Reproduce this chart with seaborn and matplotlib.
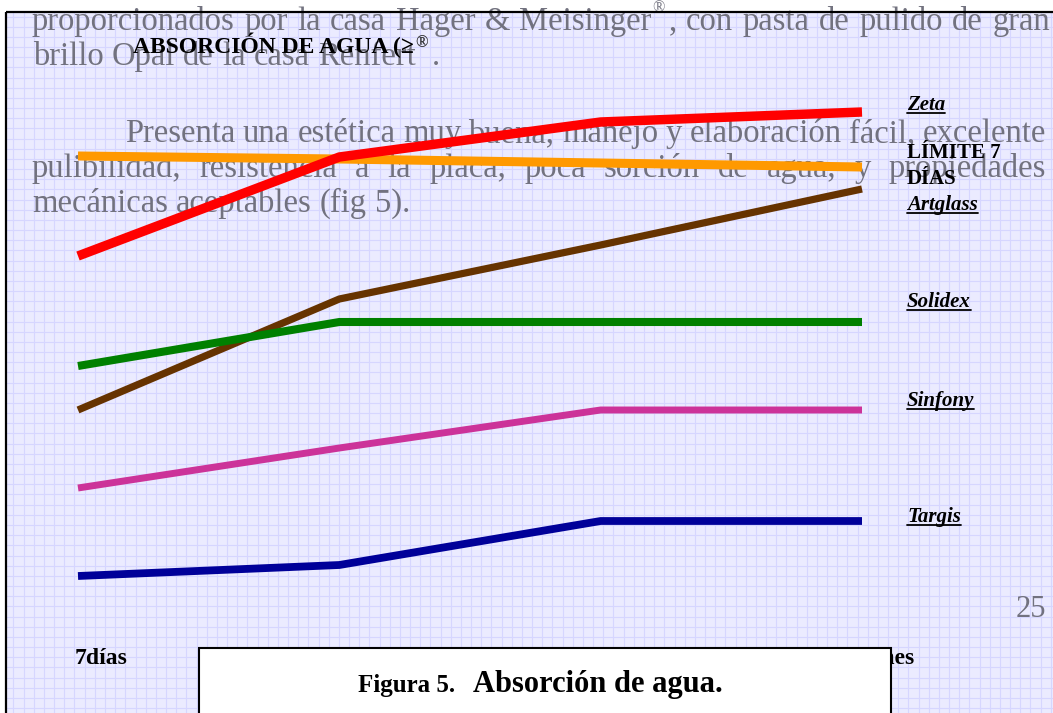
import numpy as np
import pandas as pd
import matplotlib
matplotlib.use("Agg")
import matplotlib.pyplot as plt
import matplotlib.transforms as mtransforms
from matplotlib.patches import Rectangle
import seaborn as sns

# ---------------- data ----------------
categories = ["7días", "14días", "21días", "1 mes"]
series = ["LÍMITE 7 DÍAS", "Zeta", "Artglass", "Solidex", "Sinfony", "Targis"]
limite = [88.8, 88.2, 87.4, 86.6]
zeta = [68.8, 88.6, 95.6, 97.6]
artglass = [38.0, 60.2, 71.0, 82.2]
solidex = [46.8, 55.6, 55.6, 55.6]
sinfony = [22.4, 30.4, 38.0, 38.0]
targis = [4.8, 7.0, 15.8, 15.8]
values = [limite, zeta, artglass, solidex, sinfony, targis]
colors = ["#FF9900", "#FF0000", "#663300", "#008000", "#CC3399", "#000099"]
widths = [6.5, 6.8, 5.2, 5.8, 5.0, 5.6]

rows = []
for name, vals in zip(series, values):
    for i, v in enumerate(vals):
        rows.append({"serie": name, "x": i, "valor": v})
df = pd.DataFrame(rows)

W, H = 1053, 713
sns.set_theme(style="white")
plt.rcParams["font.family"] = ["Liberation Serif", "DejaVu Serif"]

fig = plt.figure(figsize=(W / 100, H / 100), dpi=100)
fig.patch.set_facecolor("white")

# background (page) axes in pixel coordinates
ax_bg = fig.add_axes([0, 0, 1, 1], zorder=0)
ax_bg.set_xlim(0, W)
ax_bg.set_ylim(H, 0)
ax_bg.axis("off")
ax_bg.add_patch(Rectangle((6, 12), W, H, facecolor="#ebebff", edgecolor="none", zorder=0))
step = 10.17
gx = np.arange(3.3, W, step)
gy = np.arange(12 + 4.5, H, step)
ax_bg.vlines(gx[gx > 6], 12, H, colors="#d6d6ff", lw=0.8, zorder=1)
ax_bg.hlines(gy, 6, W, colors="#d6d6ff", lw=0.8, zorder=1)

renderer = fig.canvas.get_renderer()
body_size = 23.5
gray = "#72727f"


def place_line(ax, tokens, x0, y, x1=None, size=body_size, color=gray):
    arts, ws = [], []
    for text, joined, sup in tokens:
        fs = size * 0.5 if sup else size
        yy = y - (size * 0.55 * 100 / 72 if sup else 0)
        a = ax.text(0, yy, text, fontsize=fs, color=color, va="baseline", ha="left", zorder=2)
        arts.append(a)
        ws.append(a.get_window_extent(renderer).width)
    t1 = ax.text(0, -100, "a a", fontsize=size)
    t2 = ax.text(0, -100, "aa", fontsize=size)
    space = t1.get_window_extent(renderer).width - t2.get_window_extent(renderer).width
    t1.remove(); t2.remove()
    ngaps = sum(1 for i, t in enumerate(tokens) if i > 0 and not t[1])
    gap = space if x1 is None else (x1 - x0 - sum(ws)) / max(ngaps, 1)
    x = x0
    for i, (a, w) in enumerate(zip(arts, ws)):
        if i > 0:
            x += 0 if tokens[i][1] else gap
            if tokens[i][1] and not tokens[i][2] and tokens[i - 1][2]:
                x += 4
        a.set_x(x)
        x += w


def words(s):
    return [(w, False, False) for w in s.split()]


line1 = words("proporcionados por la casa Hager & Meisinger") + [("®", True, True), (",", True, False)] + \
    words("con pasta de pulido de gran")
place_line(ax_bg, line1, 32, 30, 1046)
line2 = words("brillo Opal de la casa Renfert") + [("®", True, True), (".", True, False)]
place_line(ax_bg, line2, 33, 65)
place_line(ax_bg, words("Presenta una estética muy buena, manejo y elaboración fácil, excelente"), 125, 142, 1046)
place_line(ax_bg, words("pulibilidad, resistencia a la placa, poca sorción de agua, y propiedades"), 32, 177, 1046)
place_line(ax_bg, words("mecánicas aceptables (fig 5)."), 32, 212)
ax_bg.text(1046, 617, "25", fontsize=22, color=gray, ha="right", va="baseline", zorder=2)

# page borders
ax_bg.plot([6, W], [12, 12], color="black", lw=1.6, zorder=3, solid_capstyle="butt")
ax_bg.plot([6, 6], [12, H], color="black", lw=1.6, zorder=3, solid_capstyle="butt")

# ---------------- data axes ----------------
x_left, x_right, y_zero, y_hundred = 78, 862, 600, 100
ax = fig.add_axes([x_left / W, (H - y_zero) / H, (x_right - x_left) / W, (y_zero - y_hundred) / H], zorder=1)
ax.patch.set_visible(False)
sns.lineplot(data=df, x="x", y="valor", hue="serie", hue_order=series,
             palette=dict(zip(series, colors)), legend=False, sort=False, ax=ax,
             solid_capstyle="butt", solid_joinstyle="miter")
for line, lw in zip(ax.get_lines(), widths):
    line.set_linewidth(lw)
    line.set_clip_on(False)
ax.set_xlim(0, 3)
ax.set_ylim(0, 100)
ax.set_xticks([])
ax.set_yticks([])
ax.set_xlabel("")
ax.set_ylabel("")
for s in ax.spines.values():
    s.set_visible(False)

trans = mtransforms.blended_transform_factory(ax.transData, ax_bg.transData)
for i, lab in enumerate(categories):
    ax.text(i + 0.09, 664, lab, transform=trans, fontsize=17, fontweight="bold",
            ha="center", va="baseline", color="black", clip_on=False)

# ---------------- overlay (title, labels, caption) ----------------
ax_top = fig.add_axes([0, 0, 1, 1], zorder=2)
ax_top.set_xlim(0, W)
ax_top.set_ylim(H, 0)
ax_top.axis("off")
ax_top.patch.set_visible(False)

t = ax_top.text(133, 53, "ABSORCIÓN DE AGUA (≥", fontsize=17, fontweight="bold",
                color="black", va="baseline", ha="left")
tw = t.get_window_extent(renderer).width
ax_top.text(133 + tw + 1, 47, "®", fontsize=12, color="#333333", va="baseline", ha="left")

label_specs = [("Zeta", 110), ("Artglass", 210), ("Solidex", 307), ("Sinfony", 406), ("Targis", 522)]
for name, yb in label_specs:
    a = ax_top.text(907, yb, name, fontsize=15, fontweight="bold", fontstyle="italic",
                    color="black", va="baseline", ha="left")
    w = a.get_window_extent(renderer).width
    ax_top.plot([907, 907 + w], [yb + 3, yb + 3], color="black", lw=1.3)
ax_top.text(907, 158, "LÍMITE 7", fontsize=15, fontweight="bold", color="black", va="baseline")
ax_top.text(907, 184, "DÍAS", fontsize=15, fontweight="bold", color="black", va="baseline")

ax_top.add_patch(Rectangle((199, 648), 692, 80, facecolor="white", edgecolor="black", lw=1.5, zorder=5))
ax_top.text(358, 692, "Figura 5.", fontsize=18, fontweight="bold", color="black",
            va="baseline", ha="left", zorder=6)
ax_top.text(473, 692, "Absorción de agua.", fontsize=22, fontweight="bold", color="black",
            va="baseline", ha="left", zorder=6)

fig.savefig("out.png", dpi=100)
